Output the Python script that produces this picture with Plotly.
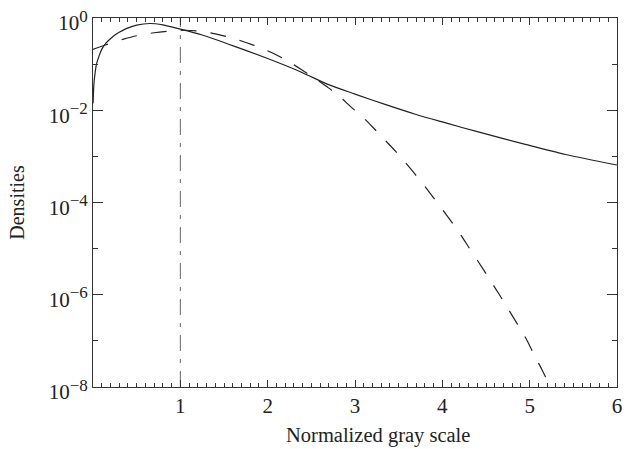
import plotly.graph_objects as go

# Solid curve
solid_x = [0.001, 0.01, 0.02, 0.04, 0.07, 0.1, 0.15, 0.2, 0.25, 0.3, 0.38, 0.5, 0.65, 0.8,
           1.0, 1.25, 1.63, 2.0, 2.38, 2.69, 3.0, 3.37, 3.7, 4.05, 4.39, 4.95, 5.41, 6.0]
solid_y = [1.41e-2, 3.55e-2, 5.62e-2, 1.0e-1, 0.151, 0.209, 0.288, 0.355, 0.427, 0.49, 0.589, 0.70,
           0.76, 0.71, 0.575, 0.427, 0.24, 0.132, 0.0676, 0.0363, 0.0224, 0.0129, 8.1e-3, 5.25e-3,
           3.47e-3, 1.82e-3, 1.10e-3, 6.5e-4]

# Dashed curve
dashed_x = [0, 0.15, 0.35, 0.5, 0.7, 0.9, 1.05, 1.25, 1.4, 1.6, 1.75, 1.92, 2.08, 2.22, 2.38, 2.54,
            2.7, 2.82, 2.95, 3.1, 3.21, 3.33, 3.46, 3.57, 3.69, 3.8, 3.9, 4.0, 4.12, 4.22, 4.31,
            4.41, 4.51, 4.6, 4.7, 4.79, 4.88, 4.97, 5.05, 5.14, 5.22, 5.26]
dashed_y = [0.209, 0.263, 0.347, 0.412, 0.479, 0.525, 0.543, 0.513, 0.452, 0.367, 0.295, 0.226,
            0.166, 0.120, 0.0776, 0.0490, 0.0302, 0.0200, 0.0120, 6.76e-3, 4.17e-3, 2.40e-3,
            1.32e-3, 7.59e-4, 4.07e-4, 2.24e-4, 1.26e-4, 7.08e-5, 3.47e-5, 1.86e-5, 1.02e-5,
            5.25e-6, 2.69e-6, 1.45e-6, 7.24e-7, 3.80e-7, 2.00e-7, 1.02e-7, 5.01e-8, 2.40e-8,
            1.17e-8, 8.5e-9]

# Vertical reference line
vline_x = [1.0, 1.0]
vline_y = [1e-8, 1.0]

x_ticks = [1, 2, 3, 4, 5, 6]
x_ticktext = ["1", "2", "3", "4", "5", "6"]
y_ticks = [1e-8, 1e-6, 1e-4, 1e-2, 1.0]
y_exponents = ["\u22128", "\u22126", "\u22124", "\u22122", "0"]
y_minor = [1e-7, 1e-5, 1e-3, 1e-1]

y_ticktext = ["10<sup><span style='font-size:17px'>%s</span></sup>" % e for e in y_exponents]

FONT = "Liberation Serif"
fig = go.Figure()
fig.add_trace(go.Scatter(x=vline_x, y=vline_y, mode="lines",
                         line=dict(color="#666666", width=1, dash="16px,8px,4px,8px"),
                         showlegend=False, hoverinfo="skip"))
fig.add_trace(go.Scatter(x=solid_x, y=solid_y, mode="lines",
                         line=dict(color="#222222", width=1.2, shape="spline", smoothing=0.8),
                         showlegend=False))
fig.add_trace(go.Scatter(x=dashed_x, y=dashed_y, mode="lines",
                         line=dict(color="#222222", width=1.2, dash="16px,14px",
                                   shape="spline", smoothing=0.8),
                         showlegend=False))

fig.update_layout(
    width=629, height=449,
    margin=dict(l=93, r=7, t=11, b=62),
    paper_bgcolor="white", plot_bgcolor="white",
    font=dict(family=FONT, size=20, color="#222222"),
    annotations=[dict(text="Normalized gray scale", xref="paper", yref="paper",
                      x=0.543, y=0, yshift=-48, showarrow=False, yanchor="middle",
                      font=dict(family=FONT, size=20.5, color="#222222"))],
)
fig.update_xaxes(
    range=[0, 6], tickmode="array", tickvals=x_ticks, ticktext=x_ticktext,
    ticks="inside", ticklen=7, tickwidth=1, tickcolor="#333333",
    showline=True, linecolor="#333333", linewidth=1, mirror="ticks",
    showgrid=False, zeroline=False, ticklabeloverflow="allow",
    minor=dict(dtick=0.1, ticks="inside", ticklen=4, tickwidth=1, tickcolor="#333333", showgrid=False),
    tickfont=dict(family=FONT, size=21),
)
fig.update_yaxes(
    type="log", range=[-8, 0], tickmode="array", tickvals=y_ticks, ticktext=y_ticktext,
    ticks="inside", ticklen=10, tickwidth=1, tickcolor="#333333",
    showline=True, linecolor="#333333", linewidth=1, mirror="ticks",
    showgrid=False, zeroline=False, ticklabeloverflow="allow", ticklabelshift=5,
    minor=dict(tickmode="array", tickvals=y_minor, ticks="inside", ticklen=5, tickwidth=1,
               tickcolor="#333333", showgrid=False),
    tickfont=dict(family=FONT, size=21),
    title=dict(text="Densities", font=dict(family=FONT, size=20), standoff=18),
)
fig.write_html("out.html", config={"displayModeBar": False},
               post_script="document.body.style.margin='0';document.body.style.padding='0';")
